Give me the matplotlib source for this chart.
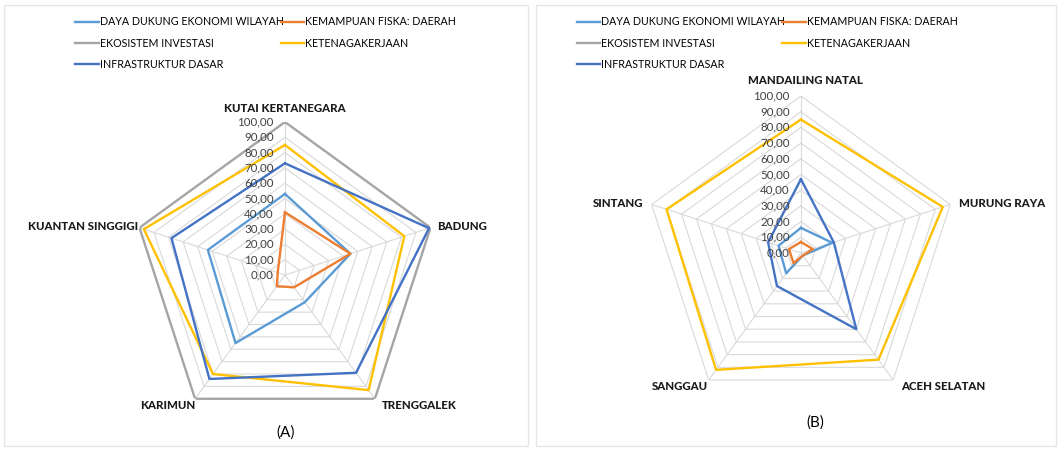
import matplotlib.pyplot as plt
import matplotlib.patches as mpatches
import numpy as np

plt.rcParams['font.family'] = ['Lato', 'DejaVu Sans']

#series names and colours (Excel office palette)
series = ['DAYA DUKUNG EKONOMI WILAYAH', 'KEMAMPUAN FISKA: DAERAH',
          'EKOSISTEM INVESTASI', 'KETENAGAKERJAAN', 'INFRASTRUKTUR DASAR']
colors = ['#5B9BD5', '#ED7D31', '#A5A5A5', '#FFC000', '#4472C4']

#panel A regions (clockwise from top)
regions_a = ['KUTAI KERTANEGARA', 'BADUNG', 'TRENGGALEK', 'KARIMUN', 'KUANTAN SINGGIGI']
daya_a = [53, 45, 22, 55, 53]
fiskal_a = [41, 45, 10, 9, 5]
ekosistem_a = [100, 100, 100, 100, 100]
tenaga_a = [85, 82, 93, 80, 97]
infra_a = [73, 99, 79, 84, 78]

#panel B regions
regions_b = ['MANDAILING NATAL', 'MURUNG RAYA', 'ACEH SELATAN', 'SANGGAU', 'SINTANG']
daya_b = [16, 21, 2, 16, 15]
fiskal_b = [7, 8, 2, 8, 8]
ekosistem_b = [0, 0, 0, 0, 0]
tenaga_b = [85, 95, 84, 92, 90]
infra_b = [47, 22, 60, 26, 22]

ticks = np.arange(0, 101, 10)

fig = plt.figure(figsize=(10.6, 4.5), dpi=100)

#faint panel frames
for x0, w in [(0.004, 0.494), (0.506, 0.490)]:
  fig.patches.append(mpatches.Rectangle((x0, 0.008), w, 0.982, transform=fig.transFigure,
                                        fill=False, ec='#e6e6e6', lw=1))


def radar(rect, labels, data, offsets):
  ax = fig.add_axes(rect, projection='polar')
  ax.set_theta_offset(np.pi/2)
  ax.set_theta_direction(-1)
  n = len(labels)
  ang = np.linspace(0, 2*np.pi, n, endpoint=False)
  angc = np.append(ang, ang[0])
  #pentagon grid
  for r in ticks[1:]:
    ax.plot(angc, [r]*(n+1), color='#d9d9d9', lw=0.8, zorder=1)
  for a in ang:
    ax.plot([a, a], [0, 100], color='#d9d9d9', lw=0.8, zorder=1)
  for vals, c in zip(data, colors):
    v = np.append(vals, vals[0])
    ax.plot(angc, v, color=c, lw=1.7, zorder=3)
  for r in ticks:
    ax.annotate(('%.2f' % r).replace('.', ','), xy=(0, r), xytext=(-8, 0),
                textcoords='offset points', ha='right', va='center',
                fontsize=8.3, color='#404040', zorder=4)
  for a, lab, (dx, dy, ha, va) in zip(ang, labels, offsets):
    ax.annotate(lab, xy=(a, 100), xytext=(dx, dy), textcoords='offset points',
                ha=ha, va=va, fontsize=8.2, fontweight='black', color='#1a1a1a')
  ax.set_ylim(0, 100)
  ax.grid(False)
  ax.set_xticks([])
  ax.set_yticks([])
  ax.spines['polar'].set_visible(False)
  ax.patch.set_alpha(0)
  return ax

offsets_a = [(0, 6, 'center', 'bottom'), (5, 1, 'left', 'center'),
             (32, -1, 'center', 'top'), (-20, -1, 'center', 'top'),
             (-1, 1, 'right', 'center')]
offsets_b = [(3, 7, 'center', 'bottom'), (6, 1, 'left', 'center'),
             (36, -1, 'center', 'top'), (-21, -1, 'center', 'top'),
             (-6, 1, 'right', 'center')]

radar([0.1245, 0.0489, 0.2887, 0.68], regions_a,
      [daya_a, fiskal_a, ekosistem_a, tenaga_a, infra_a], offsets_a)
radar([0.6075, 0.0889, 0.2962, 0.6978], regions_b,
      [daya_b, fiskal_b, ekosistem_b, tenaga_b, infra_b], offsets_b)

#legends (column-major order)
order = [0, 2, 4, 1, 3]
handles = [plt.Line2D([], [], color=colors[i], lw=1.7) for i in order]
names = [series[i] for i in order]
for x in [0.062, 0.535]:
  fig.legend(handles, names, loc='upper left', bbox_to_anchor=(x, 0.985), ncol=2,
             frameon=False, handlelength=2.2, handletextpad=0.1,
             columnspacing=-0.3, labelspacing=0.95, prop={'size': 7.7})

fig.text(0.269, 0.038, '(A)', ha='center', va='center', fontsize=11)
fig.text(0.769, 0.060, '(B)', ha='center', va='center', fontsize=11)

plt.savefig('out.png', dpi=100)
